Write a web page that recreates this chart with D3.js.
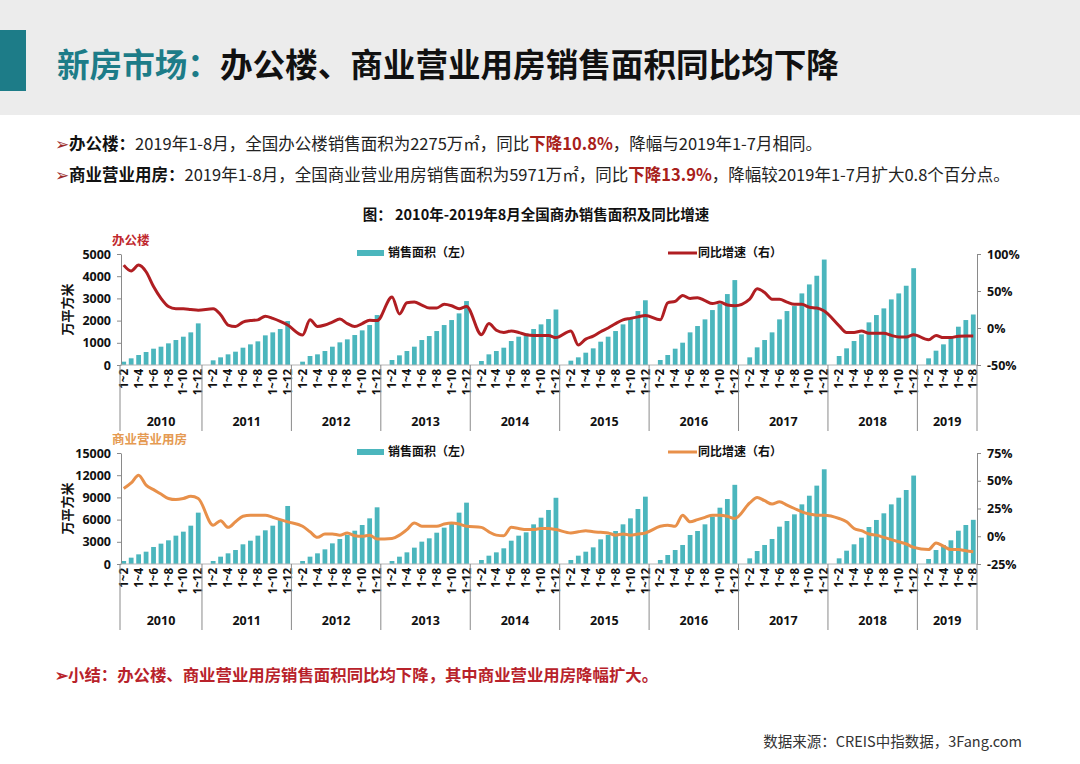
<!DOCTYPE html>
<html>
<head>
<meta charset="utf-8">
<script src="https://cdn.jsdelivr.net/npm/d3@7"></script>
<style>
body { margin: 0; background: #fff; }
text { font-family: "Open Sans", "Noto Sans CJK SC", sans-serif; }
.cn { font-family: "Noto Sans CJK SC", sans-serif; }
</style>
</head>
<body>
<div id="page"></div>
<script>
// categories: one slot per cumulative period, January slot left empty (no data)
var years = ["2010", "2011", "2012", "2013", "2014", "2015", "2016", "2017", "2018", "2019"];
var periodsFirst = ["1~2", "1~3", "1~4", "1~5", "1~6", "1~7", "1~8", "1~9", "1~10", "1~11", "1~12"];
var periodsYear = ["", "1~2", "1~3", "1~4", "1~5", "1~6", "1~7", "1~8", "1~9", "1~10", "1~11", "1~12"];
var periodsLast = ["", "1~2", "1~3", "1~4", "1~5", "1~6", "1~7", "1~8"];

// 办公楼 销售面积 (万平方米)
var officeArea = [
  150, 300, 450, 585, 735, 825, 975, 1125, 1275, 1470, 1875,      // 2010
  210, 345, 480, 600, 780, 930, 1065, 1335, 1470, 1620, 1980,     // 2011
  150, 405, 480, 630, 825, 1020, 1155, 1350, 1560, 1800, 2250,    // 2012
  225, 435, 630, 825, 1125, 1305, 1530, 1800, 2025, 2325, 2880,   // 2013
  180, 480, 630, 780, 1080, 1275, 1425, 1620, 1830, 2070, 2500,   // 2014
  195, 345, 555, 750, 1050, 1275, 1530, 1830, 2070, 2430, 2915,   // 2015
  225, 450, 735, 1005, 1470, 1755, 2055, 2475, 2745, 3195, 3825,  // 2016
  345, 795, 1125, 1470, 2055, 2430, 2655, 3225, 3630, 4020, 4750, // 2017
  405, 750, 1080, 1380, 1920, 2250, 2550, 2955, 3225, 3570, 4360, // 2018
  300, 645, 930, 1245, 1725, 2025, 2275                            // 2019
];
// 办公楼 同比增速 (%)
var officeYoY = [
  85, 77, 85, 76, 56, 40, 29, 26, 26, 25, 24,
  26, 18, 4, 2, 8, 10, 11, 16, 13, 9, 4,
  -9.5, 11, 2, 4, 8, 12, 6, 2, 6, 10.5, 10,
  42, 19, 34, 35, 31, 27, 27, 32, 30, 26, 29,
  -9, 6, -3, -6, -4, -6, -9, -10, -10, -10, -13,
  -4, -23, -15, -11, -5, 0, 6, 11, 13, 15, 17,
  11, 34, 36, 44, 40, 41, 37, 33, 35, 31, 30,
  39, 53, 48, 39, 39, 35, 32, 32, 28, 27, 23,
  3, -6, -6, -4, -7, -7, -7, -10, -12, -12, -9,
  -16, -10, -13, -13, -11, -10.8, -10.8
];
// 商业营业用房 销售面积 (万平方米)
var commArea = [
  405, 855, 1305, 1665, 2300, 2750, 3200, 3830, 4370, 5180, 6940,
  405, 990, 1440, 1890, 2660, 3150, 3830, 4550, 5180, 5950, 7840,
  405, 990, 1440, 1980, 2790, 3380, 3920, 4500, 5270, 6170, 7660,
  405, 990, 1575, 2210, 3020, 3470, 4230, 4910, 5630, 6940, 8290,
  540, 1125, 1575, 2120, 3150, 3830, 4280, 5360, 6260, 7300, 8950,
  540, 1125, 1665, 2250, 3330, 3920, 4460, 5360, 6170, 7430, 9100,
  540, 1215, 1890, 2570, 3920, 4460, 5360, 6400, 7610, 8780, 10700,
  765, 1755, 2570, 3380, 5045, 5810, 6710, 8060, 9230, 10590, 12800,
  765, 1800, 2660, 3560, 5000, 5950, 6850, 8060, 8960, 10000, 11950,
  675, 1890, 2570, 3200, 4500, 5270, 5971
];
// 商业营业用房 同比增速 (%)
var commYoY = [
  43, 48, 55, 46, 42, 38, 34, 33, 34, 36, 34,
  10, 14, 8, 13, 18, 19, 19, 19, 17, 15, 13,
  9, 4, -1, 2, 2, 1, 3, 0.5, 0, 1, -2.5,
  -2, 1, 6, 12, 9, 9, 9, 11, 12, 11, 9,
  8, 4, 1, 0.5, 8, 7, 6, 6, 7, 7, 6,
  3, 4, 5, 4, 3.5, 3, 1, 2, 1, 2, 3,
  9, 10, 9, 19, 13, 15, 17, 19, 19, 18, 16,
  30, 35, 32, 29, 31, 28, 25, 22, 20, 19, 19,
  16, 13, 7, 5, 2, 1, -1, -3, -5, -7, -10,
  -12, -6, -9, -12, -12, -13.1, -13.9
];

var officeTicks = [0, 1000, 2000, 3000, 4000, 5000];
var officeYoYTicks = [-50, 0, 50, 100];
var commTicks = [0, 3000, 6000, 9000, 12000, 15000];
var commYoYTicks = [-25, 0, 25, 50, 75];

var W = 1080, H = 764;
var svg = d3.select("#page").append("svg").attr("width", W).attr("height", H);

// build slot list
var slots = [];
years.forEach(function (y, yi) {
  var p = yi == 0 ? periodsFirst : (yi == years.length - 1 ? periodsLast : periodsYear);
  p.forEach(function (m, i) { slots.push({ id: y + "-" + i, year: y, label: m, idx: slots.length }); });
});
var barSlots = slots.filter(function (d) { return d.label !== ""; });

var x = d3.scaleBand().domain(slots.map(function (d) { return d.id; }))
  .range([120, 977]).paddingInner(0.36).paddingOuter(0.18);
var gap = (x.step() - x.bandwidth()) / 2;

// ---- header ----
svg.append("rect").attr("x", 0).attr("y", 0).attr("width", W).attr("height", 115).attr("fill", "#ececec");
svg.append("rect").attr("x", 0).attr("y", 30).attr("width", 26).attr("height", 61).attr("fill", "#1d7c88");
var ttl = svg.append("text").attr("class", "cn").attr("x", 57).attr("y", 77)
  .attr("font-size", 32.6).attr("font-weight", "bold");
ttl.append("tspan").attr("fill", "#1d7c88").text("新房市场：");
ttl.append("tspan").attr("fill", "#111").text("办公楼、商业营业用房销售面积同比均下降");

function richLine(yPos, parts, size) {
  var t = svg.append("text").attr("class", "cn").attr("x", 55).attr("y", yPos).attr("font-size", size);
  parts.forEach(function (p) {
    t.append("tspan").attr("fill", p.c || "#222").attr("font-weight", p.b ? "bold" : "normal").text(p.t);
  });
}
richLine(150, [
  { t: "➢", c: "#9a2a2a" }, { t: "办公楼：", b: 1, c: "#111" },
  { t: "2019年1-8月，全国办公楼销售面积为2275万㎡，同比" },
  { t: "下降10.8%", b: 1, c: "#a8201a" }, { t: "，降幅与2019年1-7月相同。" }
], 16.5);
richLine(181, [
  { t: "➢", c: "#9a2a2a" }, { t: "商业营业用房：", b: 1, c: "#111" },
  { t: "2019年1-8月，全国商业营业用房销售面积为5971万㎡，同比" },
  { t: "下降13.9%", b: 1, c: "#a8201a" }, { t: "，降幅较2019年1-7月扩大0.8个百分点。" }
], 16.5);

svg.append("text").attr("class", "cn").attr("x", 536).attr("y", 220).attr("text-anchor", "middle")
  .attr("font-size", 14.5).attr("font-weight", "bold").attr("fill", "#111")
  .text("图：  2010年-2019年8月全国商办销售面积及同比增速");

// ---- panels ----
function drawPanel(cfg) {
  var g = svg.append("g");
  var y = d3.scaleLinear().domain([0, cfg.ticks[cfg.ticks.length - 1]]).range([cfg.bottom, cfg.top]);
  var y2 = d3.scaleLinear().domain([cfg.yoyTicks[0], cfg.yoyTicks[cfg.yoyTicks.length - 1]]).range([cfg.bottom, cfg.top]);

  // bars
  g.selectAll("rect.bar").data(barSlots).enter().append("rect")
    .attr("class", "bar")
    .attr("x", function (d) { return x(d.id); })
    .attr("width", x.bandwidth())
    .attr("y", function (d, i) { return y(cfg.area[i]); })
    .attr("height", function (d, i) { return cfg.bottom - y(cfg.area[i]); })
    .attr("fill", "#4bb6bd");

  // line
  var line = d3.line()
    .x(function (d) { return x(d.id) + x.bandwidth() / 2; })
    .y(function (d, i) { return y2(cfg.yoy[i]); })
    .curve(d3.curveMonotoneX);
  g.append("path").datum(barSlots).attr("d", line)
    .attr("fill", "none").attr("stroke", cfg.lineColor).attr("stroke-width", 3)
    .attr("stroke-linejoin", "round");

  // left axis
  var la = g.append("g").attr("transform", "translate(121,0)")
    .call(d3.axisLeft(y).tickValues(cfg.ticks).tickSize(4).tickSizeOuter(0).tickPadding(6)
      .tickFormat(function (d) { return String(d); }));
  // right axis
  var ra = g.append("g").attr("transform", "translate(977,0)")
    .call(d3.axisRight(y2).tickValues(cfg.yoyTicks).tickSize(4).tickSizeOuter(0).tickPadding(6)
      .tickFormat(function (d) { return d + "%"; }));
  [la, ra].forEach(function (a) {
    a.select(".domain").attr("stroke", "#8a8a8a");
    a.selectAll(".tick line").attr("stroke", "#8a8a8a");
    a.selectAll(".tick text").attr("font-size", 12.5).attr("font-weight", "bold").attr("fill", "#111")
      .style("font-family", "'Open Sans', sans-serif");
  });

  // x baseline
  g.append("line").attr("x1", 120).attr("x2", 977).attr("y1", cfg.bottom).attr("y2", cfg.bottom)
    .attr("stroke", "#b5b5b5");

  // rotated period labels, every other slot
  g.selectAll("text.per").data(slots.filter(function (d) { return d.idx % 2 == 0 && d.label !== ""; }))
    .enter().append("text").attr("class", "per")
    .attr("transform", function (d) {
      return "translate(" + (x(d.id) + x.bandwidth() / 2) + "," + (cfg.bottom + 4) + ") rotate(-90)";
    })
    .attr("text-anchor", "end").attr("dy", "0.36em")
    .attr("font-size", 11.5).attr("font-weight", "bold").attr("fill", "#111")
    .text(function (d) { return d.label; });

  // year groups
  var yearStarts = years.map(function (yr) {
    var s = slots.filter(function (d) { return d.year == yr; });
    return { year: yr, x0: x(s[0].id) - gap, x1: x(s[s.length - 1].id) + x.bandwidth() + gap };
  });
  var seps = yearStarts.map(function (d) { return d.x0; }).concat([977]);
  g.selectAll("line.sep").data(seps).enter().append("line").attr("class", "sep")
    .attr("x1", function (d) { return d; }).attr("x2", function (d) { return d; })
    .attr("y1", cfg.bottom).attr("y2", cfg.bottom + 66)
    .attr("stroke", "#8a8a8a");
  g.selectAll("text.yr").data(yearStarts).enter().append("text").attr("class", "yr")
    .attr("x", function (d) { return (d.x0 + d.x1) / 2; }).attr("y", cfg.bottom + 61)
    .attr("text-anchor", "middle").attr("font-size", 12.5).attr("font-weight", "bold").attr("fill", "#111")
    .text(function (d) { return d.year; });

  // axis title
  g.append("text").attr("class", "cn")
    .attr("transform", "translate(72," + ((cfg.top + cfg.bottom) / 2) + ") rotate(-90)")
    .attr("text-anchor", "middle").attr("font-size", 13).attr("font-weight", "bold").attr("fill", "#111")
    .text("万平方米");

  // panel name
  g.append("text").attr("class", "cn").attr("x", 112).attr("y", cfg.top - 9)
    .attr("font-size", 12.5).attr("font-weight", "bold").attr("fill", cfg.nameColor).text(cfg.name);

  // legend
  var ly = cfg.top - 1;
  g.append("rect").attr("x", 357).attr("y", ly - 3).attr("width", 27).attr("height", 6).attr("fill", "#4bb6bd");
  g.append("text").attr("class", "cn").attr("x", 388).attr("y", ly).attr("dy", "0.35em")
    .attr("font-size", 12).attr("font-weight", "bold").attr("fill", "#111").text("销售面积（左）");
  g.append("line").attr("x1", 668).attr("x2", 697).attr("y1", ly).attr("y2", ly)
    .attr("stroke", cfg.lineColor).attr("stroke-width", 3);
  g.append("text").attr("class", "cn").attr("x", 698).attr("y", ly).attr("dy", "0.35em")
    .attr("font-size", 12).attr("font-weight", "bold").attr("fill", "#111").text("同比增速（右）");
}

drawPanel({ top: 254, bottom: 365, area: officeArea, yoy: officeYoY, ticks: officeTicks,
  yoyTicks: officeYoYTicks, lineColor: "#b01e22", name: "办公楼", nameColor: "#c0282d" });
drawPanel({ top: 453, bottom: 564, area: commArea, yoy: commYoY, ticks: commTicks,
  yoyTicks: commYoYTicks, lineColor: "#e8904a", name: "商业营业用房", nameColor: "#e59a52" });

// summary and source
richLine(681, [{ t: "➢小结：办公楼、商业营业用房销售面积同比均下降，其中商业营业用房降幅扩大。", b: 1, c: "#b8222a" }], 16.4);
svg.append("text").attr("class", "cn").attr("x", 1022).attr("y", 747).attr("text-anchor", "end")
  .attr("font-size", 14.5).attr("fill", "#333").text("数据来源：CREIS中指数据，3Fang.com");
</script>
</body>
</html>
